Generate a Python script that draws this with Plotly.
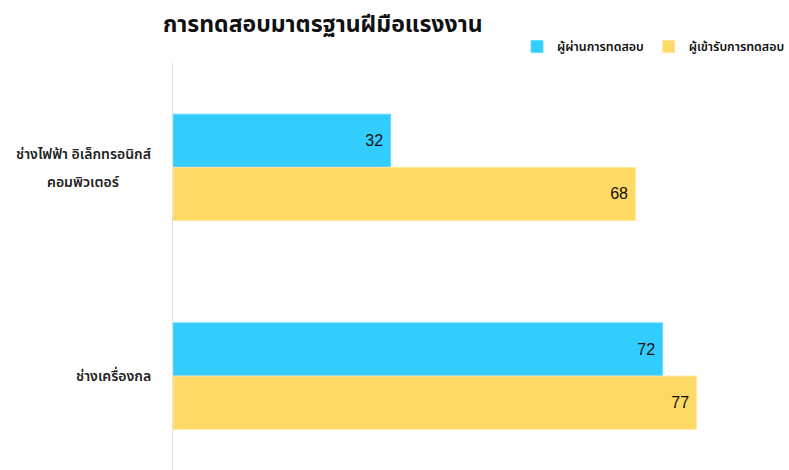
import plotly.graph_objects as go

category_lines = [["ช่างไฟฟ้า อิเล็กทรอนิกส์", "คอมพิวเตอร์"], ["ช่างเครื่องกล"]]
passed = [32, 72]
applicants = [68, 77]
series_names = ["ผู้ผ่านการทดสอบ", "ผู้เข้ารับการทดสอบ"]
title_text = "การทดสอบมาตรฐานฝีมือแรงงาน"

FONT = "Noto Sans Thai, Noto Sans, DejaVu Sans, sans-serif"
NUM_FONT = "Liberation Sans, Arial, sans-serif"
pos = list(range(len(category_lines)))

fig = go.Figure()
fig.add_trace(go.Bar(
    y=pos, x=passed, name=series_names[0], orientation="h",
    marker=dict(color="#33CCFF", line=dict(color="#66DDFF", width=1)),
    text=passed, texttemplate="%{x} ", textposition="inside", insidetextanchor="end",
    textfont=dict(color="#111111", size=16, family=NUM_FONT),
))
fig.add_trace(go.Bar(
    y=pos, x=applicants, name=series_names[1], orientation="h",
    marker=dict(color="#FFD966", line=dict(color="#FFE899", width=1)),
    text=applicants, texttemplate="%{x} ", textposition="inside", insidetextanchor="end",
    textfont=dict(color="#111111", size=16, family=NUM_FONT),
))

# category labels as annotations left of the axis, one annotation per line
LINE_H = 28
for p, lines in zip(pos, category_lines):
    n = len(lines)
    for i, line in enumerate(lines):
        shift = ((n - 1) / 2 - i) * LINE_H - (1 if n > 1 else 0)
        if n > 1:
            xa, xs = "center", -90
        else:
            xa, xs = "right", -20
        fig.add_annotation(x=0, xref="paper", xanchor=xa, xshift=xs,
                           y=p, yref="y", yanchor="middle", yshift=shift,
                           text=line, showarrow=False, align="center",
                           font=dict(size=14, color="#222222", family=FONT, weight=600))

fig.update_layout(
    width=789, height=470,
    margin=dict(l=173, r=4, t=63, b=0, autoexpand=False),
    paper_bgcolor="white", plot_bgcolor="white",
    barmode="group", bargap=0.49, bargroupgap=0,
    title=dict(text="<b>" + title_text + "</b>", x=163/789, xanchor="left",
               y=0.949, yanchor="middle",
               font=dict(size=23, color="#111111", family=FONT)),
    legend=dict(orientation="h", x=(517 - 173) / 612, xanchor="left",
                y=(470 - 47) / 470, yref="container", yanchor="middle",
                font=dict(size=12.4, color="#111111", family=FONT, weight=600),
                itemwidth=30, traceorder="normal", tracegroupgap=0),
    font=dict(family=FONT),
    uniformtext=dict(minsize=8, mode="show"),
)
fig.update_xaxes(range=[0, 90], showgrid=False, showticklabels=False, zeroline=False,
                 showline=False, ticks="", automargin=False)
fig.update_yaxes(range=[1.45, -0.5], tickvals=pos, showticklabels=False,
                 showgrid=False, zeroline=False, showline=True, linecolor="#e0e0e0", linewidth=1,
                 ticks="", automargin=False)

fig.write_html("out.html", config={"displayModeBar": False},
               post_script="document.body.style.margin='0px';")
